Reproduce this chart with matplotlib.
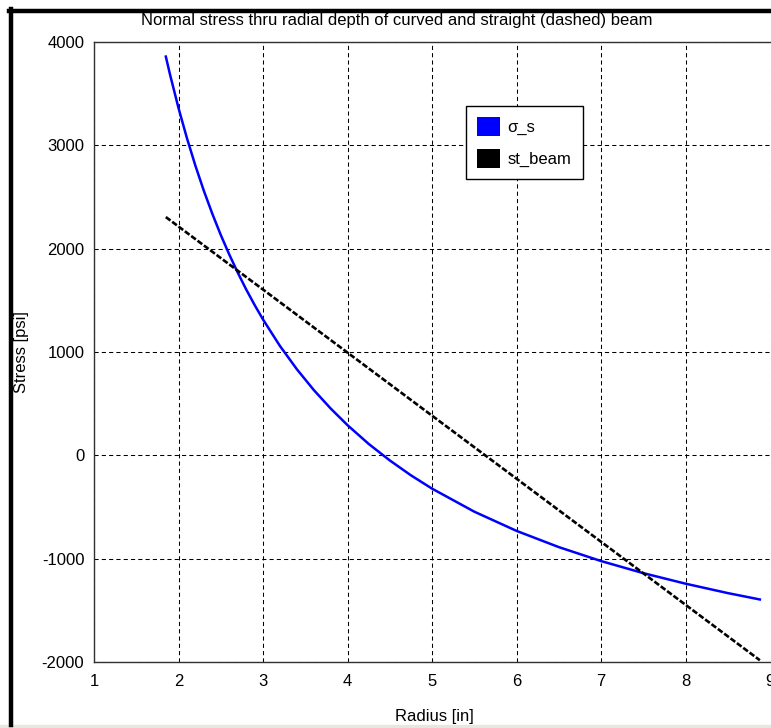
import matplotlib
matplotlib.use("Agg")
import matplotlib.pyplot as plt
from matplotlib.patches import Patch
from matplotlib.lines import Line2D

plt.rcParams['font.family'] = ['Liberation Sans', 'DejaVu Sans']
plt.rcParams['axes.unicode_minus'] = False

# curved beam stress (blue)
radius_curved = [1.85, 1.9, 2.0, 2.1, 2.2, 2.3, 2.4, 2.5, 2.6, 2.7, 2.8, 2.9, 3.0,
                 3.2, 3.4, 3.6, 3.8, 4.0, 4.25, 4.5, 4.75, 5.0, 5.5, 6.0, 6.5,
                 7.0, 7.5, 8.0, 8.5, 8.88]
sigma_s = [3859, 3684, 3361, 3069, 2803, 2560, 2338, 2133, 1945, 1770, 1607, 1456, 1315,
           1059, 834, 633, 454, 292, 111, -49, -193, -322, -545, -731, -888,
           -1023, -1140, -1242, -1333, -1395]

# straight beam stress (black dashed)
radius_straight = [1.85, 8.88]
st_beam = [2306, -1983]

x_ticks = [1, 2, 3, 4, 5, 6, 7, 8, 9]
y_ticks = [-2000, -1000, 0, 1000, 2000, 3000, 4000]

W, H = 771, 728
fig = plt.figure(figsize=(W / 100, H / 100), dpi=100)

# window frame bits
fig.patches.append(plt.Rectangle((0, 0), 1, 3.0 / H, transform=fig.transFigure,
                                 color='#e8e6df', zorder=0))
fig.add_artist(Line2D([10.5 / W, 10.5 / W], [3.0 / H, 1 - 9.0 / H], transform=fig.transFigure,
                      color='black', lw=3.2))
fig.add_artist(Line2D([9.0 / W, 1.0], [1 - 10.5 / H, 1 - 10.5 / H], transform=fig.transFigure,
                      color='black', lw=3.2))

ax = fig.add_axes([94 / W, 66 / H, (770 - 94) / W, (662 - 42) / H])
ax.plot(radius_curved, sigma_s, color='#0000ff', lw=1.8)
ax.plot(radius_straight, st_beam, color='black', lw=1.9, linestyle=(0, (2.2, 0.8)))

ax.set_xlim(1, 9)
ax.set_ylim(-2000, 4000)
ax.set_xticks(x_ticks)
ax.set_yticks(y_ticks)
ax.tick_params(length=0, labelsize=12, colors='black')
ax.tick_params(axis='y', pad=7)
ax.tick_params(axis='x', pad=9)
ax.grid(True, color='black', linestyle=(0, (4, 3)), linewidth=0.75)
for side in ['left', 'bottom', 'top']:
    ax.spines[side].set_color('#303030')
    ax.spines[side].set_linewidth(1.0)
ax.spines['right'].set_visible(False)

fig.text(397 / W, 1 - 21 / H, 'Normal stress thru radial depth of curved and straight (dashed) beam',
         ha='center', va='center', fontsize=12)
fig.text(434 / W, 1 - 716 / H, 'Radius [in]', ha='center', va='center', fontsize=12)
fig.text(22 / W, 1 - 352 / H, 'Stress [psi]', ha='center', va='center', rotation=90, fontsize=12)

handles = [Patch(facecolor='#0000ff', edgecolor='none'),
           Patch(facecolor='black', edgecolor='none')]
leg = ax.legend(handles, ['σ_s', 'st_beam'], loc='upper left',
                bbox_to_anchor=(466 / W, 1 - 106 / H), bbox_transform=fig.transFigure,
                fontsize=12, handlelength=1.35, handleheight=1.35, handletextpad=0.45,
                labelspacing=0.8, borderpad=0.68, borderaxespad=0, fancybox=False,
                framealpha=1, edgecolor='black')
leg.get_frame().set_linewidth(1.0)

fig.savefig('out.png', dpi=100)
